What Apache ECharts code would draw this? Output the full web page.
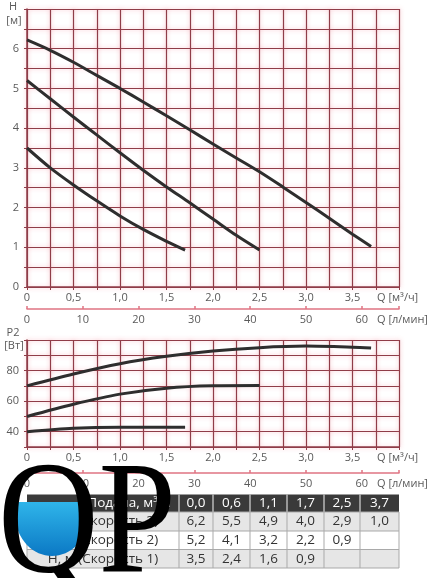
<!DOCTYPE html>
<html><head><meta charset="utf-8">
<script src="https://cdn.jsdelivr.net/npm/echarts@6/dist/echarts.min.js"></script>
<style>html,body{margin:0;padding:0;background:#fff}#c{width:429px;height:578px}</style>
</head><body><div id="c"></div>
<script>
// ---- table data ----
const flowQ = [0.0, 0.6, 1.1, 1.7, 2.5, 3.7];
const head3 = [6.2, 5.5, 4.9, 4.0, 2.9, 1.0];
const head2 = [5.2, 4.1, 3.2, 2.2, 0.9, null];
const head1 = [3.5, 2.4, 1.6, 0.9, null, null];
const headerLabel = 'Подача, м³/ч';
const rowLabels = ['Н, м (Скорость 3)', 'Н, м (Скорость 2)', 'Н, м (Скорость 1)'];
// ---- curve readings (head) ----
const headQ3 = [0, 0.25, 0.5, 0.75, 1.0, 1.25, 1.5, 1.75, 2.0, 2.25, 2.5, 2.75, 3.0, 3.25, 3.5, 3.7];
const headC3 = [6.22, 5.96, 5.66, 5.33, 5.0, 4.66, 4.31, 3.96, 3.60, 3.25, 2.90, 2.52, 2.13, 1.73, 1.33, 1.02];
const headQ2 = [0, 0.25, 0.5, 0.75, 1.0, 1.25, 1.5, 1.75, 2.0, 2.25, 2.5];
const headC2 = [5.2, 4.74, 4.28, 3.83, 3.38, 2.94, 2.52, 2.12, 1.71, 1.30, 0.93];
const headQ1 = [0, 0.25, 0.5, 0.75, 1.0, 1.25, 1.5, 1.7];
const headC1 = [3.5, 3.0, 2.57, 2.17, 1.79, 1.45, 1.15, 0.93];
// ---- curve readings (power) ----
const powerQ3 = [0, 0.5, 1.0, 1.5, 2.0, 2.5, 3.0, 3.5, 3.7];
const power3  = [70, 77.8, 84.5, 89.3, 92.8, 95.0, 96.0, 95.3, 94.7];
const powerQ2 = [0, 0.5, 1.0, 1.5, 2.0, 2.5];
const power2  = [50, 58, 64.6, 68.5, 70, 70.2];
const powerQ1 = [0, 0.5, 1.0, 1.7];
const power1  = [40, 42.3, 43, 43];
// ---- tick labels ----
const qTickLabels = [0, 0.5, 1.0, 1.5, 2.0, 2.5, 3.0, 3.5];
const lminTickLabels = [0, 10, 20, 30, 40, 50, 60];
const headTickLabels = [0, 1, 2, 3, 4, 5, 6];
const powerTickLabels = [40, 60, 80];

// ---- helpers ----
const pairs = (xs, ys) => xs.map((x, i) => [x, ys[i]]).filter(p => p[1] != null);
const has = (arr, v) => arr.some(t => Math.abs(t - v) < 1e-6);
const fmtQ = v => has(qTickLabels, v) ? (v === 0 ? '0' : v.toFixed(1).replace('.', ',')) : '';
const fmtNum = v => v.toFixed(1).replace('.', ',');

const FONT = 'Open Sans';
const dark = '#8f3d48';
const pinkAxis = '#e07482';
const gridLine = { color: dark, width: 1.2, shadowColor: 'rgba(240,110,130,0.55)', shadowBlur: 4 };
const labelStyle = { color: '#5a5a5a', fontSize: 11, fontFamily: FONT };

function qAxis(gridIndex) {
  return {
    type: 'value', gridIndex, min: 0, max: 4, interval: 0.25,
    axisLine: { show: true, onZero: false, lineStyle: { color: dark, width: 1.5 } },
    axisTick: { show: true, length: 3, lineStyle: { color: dark } },
    axisLabel: { ...labelStyle, margin: 5, formatter: fmtQ },
    splitLine: { show: true, lineStyle: gridLine },
    name: 'Q [м³/ч]', nameLocation: 'end', nameGap: -22,
    nameTextStyle: { ...labelStyle, align: 'left', verticalAlign: 'top', padding: [5, 0, 0, 0] }
  };
}
function lAxis(gridIndex, offset) {
  return {
    type: 'value', gridIndex, position: 'bottom', offset, min: 0, max: 4000 / 60, interval: 10,
    axisLine: { show: true, onZero: false, lineStyle: { color: pinkAxis, width: 1.5 } },
    axisTick: { show: true, inside: true, length: 3, lineStyle: { color: pinkAxis, width: 1.5 } },
    axisLabel: { ...labelStyle, margin: 5, formatter: v => has(lminTickLabels, v) ? String(Math.round(v)) : '' },
    splitLine: { show: false },
    name: 'Q [л/мин]', nameLocation: 'end', nameGap: -22,
    nameTextStyle: { ...labelStyle, align: 'left', verticalAlign: 'top', padding: [5, 0, 0, 0] }
  };
}
function yAx(gridIndex, min, max, interval, labels) {
  return {
    type: 'value', gridIndex, min, max, interval,
    axisLine: { show: true, lineStyle: { color: dark, width: 1.5 } },
    axisTick: { show: true, length: 3, lineStyle: { color: dark } },
    axisLabel: { ...labelStyle, margin: 8, formatter: v => has(labels, v) ? String(v) : '' },
    splitLine: { show: true, lineStyle: gridLine }
  };
}
const curve = (xi, yi, data) => ({
  type: 'line', xAxisIndex: xi, yAxisIndex: yi, data, showSymbol: false, smooth: 0.3,
  lineStyle: { color: '#2e2e2e', width: 3 }, z: 5, silent: true
});

// ---- table (graphic) ----
const colEdges = [27, 179, 213, 250, 287, 324, 360, 399];
const rowEdges = [494.5, 512, 531, 549.5, 568];
const rowFills = ['#e6e6e6', '#ffffff', '#e6e6e6'];
const bodyRows = [head3, head2, head1];
const tbl = [];
const tStyle = (text, x, y, fill, align) => ({
  type: 'text', x, y, z: 10,
  style: { text, fill, font: '13.5px "Open Sans"', align, verticalAlign: 'middle' }
});
tbl.push({ type: 'rect', z: 8, shape: { x: colEdges[0], y: rowEdges[0], width: colEdges[7] - colEdges[0], height: rowEdges[1] - rowEdges[0] }, style: { fill: '#3a3a3a' } });
for (let r = 0; r < 3; r++) {
  tbl.push({ type: 'rect', z: 8, shape: { x: colEdges[0], y: rowEdges[r + 1], width: colEdges[7] - colEdges[0], height: rowEdges[r + 2] - rowEdges[r + 1] }, style: { fill: rowFills[r] } });
}
for (let c = 1; c < 7; c++) {
  tbl.push({ type: 'line', z: 9, shape: { x1: colEdges[c], y1: rowEdges[0], x2: colEdges[c], y2: rowEdges[1] }, style: { stroke: '#d8d8d8', lineWidth: 1.2 } });
}
for (let c = 0; c < 8; c++) {
  tbl.push({ type: 'line', z: 9, shape: { x1: colEdges[c], y1: rowEdges[1], x2: colEdges[c], y2: rowEdges[4] }, style: { stroke: '#a9a9a9', lineWidth: 1 } });
}
for (let r = 1; r < 5; r++) {
  tbl.push({ type: 'line', z: 9, shape: { x1: colEdges[0], y1: rowEdges[r], x2: colEdges[7], y2: rowEdges[r] }, style: { stroke: '#a9a9a9', lineWidth: 1 } });
}
const midY = r => (rowEdges[r] + rowEdges[r + 1]) / 2;
const midX = c => (colEdges[c] + colEdges[c + 1]) / 2;
tbl.push(tStyle(headerLabel, colEdges[1] - 8, midY(0), '#ffffff', 'right'));
flowQ.forEach((q, i) => tbl.push(tStyle(fmtNum(q), midX(i + 1), midY(0), '#ffffff', 'center')));
rowLabels.forEach((lab, r) => {
  tbl.push(tStyle(lab, midX(0), midY(r + 1), '#333333', 'center'));
  bodyRows[r].forEach((v, i) => { if (v != null) tbl.push(tStyle(fmtNum(v), midX(i + 1), midY(r + 1), '#333333', 'center')); });
});

// ---- axis titles & logo ----
const titles = [
  { type: 'text', x: 13, y: 7, style: { text: 'H', fill: '#5a5a5a', font: '11px "Open Sans"', align: 'center', verticalAlign: 'middle' } },
  { type: 'text', x: 14, y: 20.5, style: { text: '[м]', fill: '#5a5a5a', font: '11px "Open Sans"', align: 'center', verticalAlign: 'middle' } },
  { type: 'text', x: 13, y: 333, style: { text: 'P2', fill: '#5a5a5a', font: '11px "Open Sans"', align: 'center', verticalAlign: 'middle' } },
  { type: 'text', x: 14, y: 346, style: { text: '[Вт]', fill: '#5a5a5a', font: '11px "Open Sans"', align: 'center', verticalAlign: 'middle' } }
];
const waterPts = [];
{
  const cx = 52, cy = 514, rx = 37, ry = 42, level = 502;
  const a0 = Math.asin((level - cy) / ry);
  for (let k = 0; k <= 40; k++) {
    const a = a0 + (Math.PI - 2 * a0) * k / 40;
    waterPts.push([cx + rx * Math.cos(a), cy + ry * Math.sin(a)]);
  }
}
const logo = [
  { type: 'polygon', z: 40, shape: { points: waterPts },
    style: { fill: { type: 'linear', x: 0, y: 0, x2: 0, y2: 1, colorStops: [{ offset: 0, color: '#2fb5ea' }, { offset: 1, color: '#0b78c4' }] } } },
  { type: 'text', z: 50, x: -2, y: 447, scaleX: 0.86,
    style: { text: 'QP', fill: '#000000', font: '162px "Liberation Serif"', verticalAlign: 'top' } }
];

const option = {
  animation: false,
  backgroundColor: '#ffffff',
  textStyle: { fontFamily: FONT },
  grid: [
    { left: 27, top: 9, width: 372, height: 278 },
    { left: 27, top: 340, width: 372, height: 107 }
  ],
  xAxis: [qAxis(0), lAxis(0, 22), qAxis(1), lAxis(1, 26)],
  yAxis: [yAx(0, 0, 7, 0.5, headTickLabels), yAx(1, 30, 100, 10, powerTickLabels)],
  series: [
    curve(0, 0, pairs(headQ3, headC3)),
    curve(0, 0, pairs(headQ2, headC2)),
    curve(0, 0, pairs(headQ1, headC1)),
    curve(2, 1, pairs(powerQ3, power3)),
    curve(2, 1, pairs(powerQ2, power2)),
    curve(2, 1, pairs(powerQ1, power1))
  ],
  graphic: [...titles, ...tbl, ...logo]
};
const chart = echarts.init(document.getElementById('c'), null, { renderer: 'canvas' });
chart.setOption(option);
</script>
</body></html>
